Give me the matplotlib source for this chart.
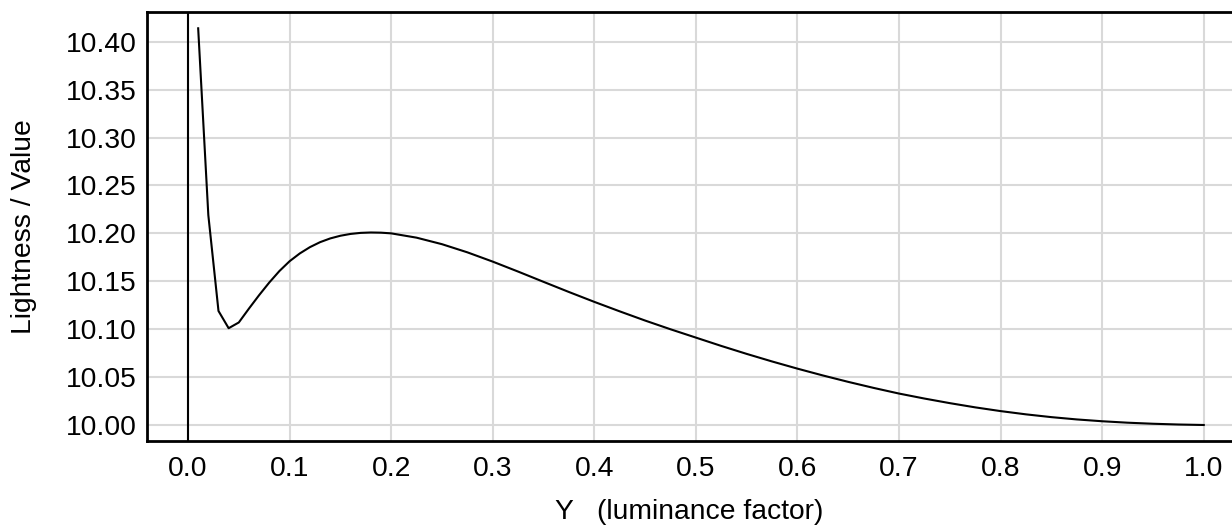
import matplotlib
matplotlib.use('Agg')
import matplotlib.pyplot as plt

# luminance factor samples and lightness values
lum_factor = [0.01, 0.02, 0.03, 0.04, 0.05, 0.06, 0.07, 0.08, 0.09, 0.10,
              0.11, 0.12, 0.13, 0.14, 0.15, 0.16, 0.17, 0.18, 0.19, 0.20,
              0.225, 0.25, 0.275, 0.30, 0.325, 0.35, 0.375, 0.40, 0.425, 0.45,
              0.475, 0.50, 0.525, 0.55, 0.575, 0.60, 0.625, 0.65, 0.675, 0.70,
              0.725, 0.75, 0.775, 0.80, 0.825, 0.85, 0.875, 0.90, 0.925, 0.95,
              0.975, 1.00]
lightness = [10.414, 10.219, 10.119, 10.101, 10.107, 10.1215, 10.1355, 10.1487, 10.1607, 10.1709,
             10.1790, 10.1856, 10.1908, 10.1947, 10.1975, 10.1994, 10.2005, 10.2009, 10.2007, 10.2000,
             10.1955, 10.1887, 10.1802, 10.1705, 10.1601, 10.1494, 10.1388, 10.1285, 10.1186, 10.1090,
             10.0999, 10.0912, 10.0825, 10.0742, 10.0663, 10.0588, 10.0517, 10.0450, 10.0387, 10.0328,
             10.0276, 10.0228, 10.0184, 10.0145, 10.0111, 10.0082, 10.0058, 10.0039, 10.0024, 10.0013,
             10.0005, 10.0000]

x_ticks = [0.0, 0.1, 0.2, 0.3, 0.4, 0.5, 0.6, 0.7, 0.8, 0.9, 1.0]
y_ticks = [10.00, 10.05, 10.10, 10.15, 10.20, 10.25, 10.30, 10.35, 10.40]

plt.rcParams['font.family'] = ['Liberation Sans', 'DejaVu Sans']
plt.rcParams['font.size'] = 20.3

fig = plt.figure(figsize=(12.32, 5.27), dpi=100)
ax = fig.add_axes([0.1193, 0.1632, 0.8807, 0.8131])

ax.grid(True, color='#d9d9d9', linewidth=1.5)
ax.set_axisbelow(True)
ax.axvline(0, color='black', linewidth=1.5)
ax.plot(lum_factor, lightness, color='black', linewidth=1.5)

ax.set_xlim(-0.0404, 1.0278)
ax.set_ylim(9.9833, 10.4305)
ax.set_xticks(x_ticks)
ax.set_xticklabels(['%.1f' % t for t in x_ticks])
ax.set_yticks(y_ticks)
ax.set_yticklabels(['%.2f' % t for t in y_ticks])
ax.tick_params(axis='x', length=0, pad=11)
ax.tick_params(axis='y', length=0, pad=7.5)

for side in ['left', 'bottom', 'top']:
    ax.spines[side].set_linewidth(2)
    ax.spines[side].set_color('black')
ax.spines['right'].set_visible(False)

ax.set_xlabel('Y   (luminance factor)', labelpad=12)
ax.set_ylabel('Lightness / Value', labelpad=20.5)

fig.savefig('out.png', dpi=100)
plt.close(fig)
